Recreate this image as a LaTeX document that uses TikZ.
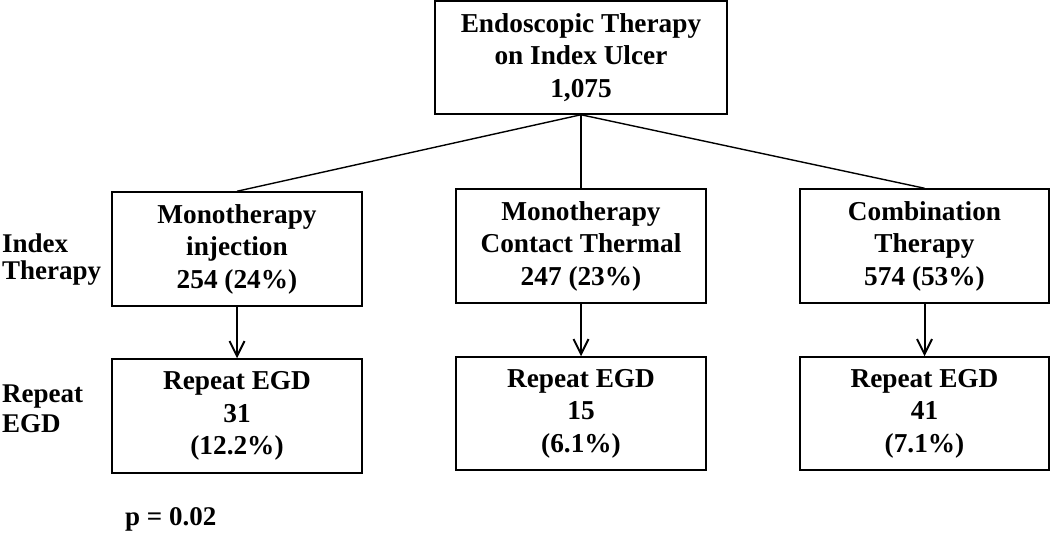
\documentclass[tikz,border=0pt]{standalone}
\usepackage{fontspec}
\setmainfont{Liberation Serif}
\usetikzlibrary{arrows.meta}
\begin{document}
\begin{tikzpicture}[x=1pt,y=-1pt,
  box/.style={draw, line width=1.5pt, inner sep=0pt, align=center,
    font=\bfseries\fontsize{27.3}{32.5}\selectfont},
  lbl/.style={inner sep=0pt, align=left, anchor=west},
  link/.style={line width=1.4pt},
  arr/.style={line width=2pt, -{Straight Barb[length=15pt,width=15pt,line width=2pt]}}]
\useasboundingbox (0,0) rectangle (1050,533);
\node[box, minimum width=292pt, minimum height=113pt] (top) at (581,57.5)
  {Endoscopic Therapy\\on Index Ulcer\\1,075};
\node[box, minimum width=250pt, minimum height=114pt] (m1) at (237,249)
  {Monotherapy\\injection\\254 (24\%)};
\node[box, minimum width=250pt, minimum height=114pt] (m2) at (581,246)
  {Monotherapy\\Contact Thermal\\247 (23\%)};
\node[box, minimum width=249pt, minimum height=114pt] (m3) at (924.5,246)
  {Combination\\Therapy\\574 (53\%)};
\node[box, minimum width=250pt, minimum height=114pt] (b1) at (237,416)
  {Repeat EGD\\31\\(12.2\%)};
\node[box, minimum width=250pt, minimum height=113pt] (b2) at (581,413.5)
  {Repeat EGD\\15\\(6.1\%)};
\node[box, minimum width=249pt, minimum height=113pt] (b3) at (924.5,413.5)
  {Repeat EGD\\41\\(7.1\%)};
\node[lbl, font=\bfseries\fontsize{27}{27}\selectfont] (l1) at (2,260) {Index\\Therapy};
\node[lbl, font=\bfseries\fontsize{27}{30}\selectfont] (l2) at (2,409) {Repeat\\EGD};
\node[inner sep=0pt, anchor=base west, font=\bfseries\fontsize{27}{30}\selectfont] (p) at (125,525) {p = 0.02};
\draw[link] (top.south) -- (m1.north);
\draw[link] (top.south) -- (m2.north);
\draw[link] (top.south) -- (m3.north);
\draw[arr] (m1.south) -- (b1.north);
\draw[arr] (m2.south) -- (b2.north);
\draw[arr] (m3.south) -- (b3.north);
\end{tikzpicture}
\end{document}
